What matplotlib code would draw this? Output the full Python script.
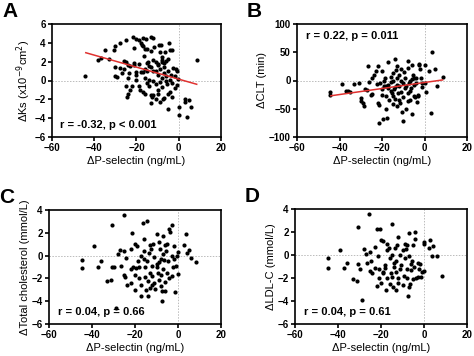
import matplotlib
matplotlib.use("Agg")
import matplotlib.pyplot as plt

plt.rcParams['font.family'] = ['Liberation Sans', 'DejaVu Sans']

# Panel A: delta Ks
a_x = [-44.5, -38, -37, -35, -33, -30.5, -30, -30, -30, -29, -28, -28, -27, -26, -25, -25, -25,
       -24.5, -24, -24, -23.5, -23, -22, -21.5, -21, -21, -21, -20, -20, -20, -19, -19, -18.5, -18,
       -17.5, -17, -17, -17, -16.5, -16, -16, -16, -16, -15.5, -15, -15, -15, -15, -14.5, -14, -14,
       -14, -13, -13, -13, -13, -13, -12.5, -12, -12, -12, -12, -12, -11.5, -11, -11, -11, -11, -10,
       -10, -10, -10, -9.5, -9, -9, -9, -9, -8.5, -8, -8, -8, -8, -8, -7.5, -7, -7, -7, -7, -6.5, -6,
       -6, -6, -5.5, -5, -5, -5, -5, -4.5, -4, -4, -4, -3.5, -3, -3, -3, -2.5, -2, -2, -1.5, -1, -1,
       -0.5, 0, 0, 3, 3, 4, 5, 6, 8.5, -20, -18, -10, -19, -26, -24, -23, -17]
a_y = [0.5, 2.2, 2.4, 3.2, 2.3, 3.2, 3.7, 1.4, 0.5, 0.4, 4.0, 1.3, 0.8, 1.2, 4.3, 2.0, -0.6,
       -1.8, -1.4, 0.3, 0.8, 1.5, -0.6, 4.6, 3.5, 1.9, 1.6, 4.4, 0.6, 0.1, 4.3, -0.6, -1.0, 4.0,
       3.8, 4.5, 3.7, 0.9, 2.6, 3.3, 1.2, 0.3, -1.4, 4.4, 3.3, 1.9, 1.0, -0.3, 2.0, 1.5, 0.1,
       -0.6, 4.6, 3.1, 1.4, -1.5, -2.4, -1.7, 4.5, 2.2, 1.0, 0.0, -1.5, 3.6, 2.0, 1.0, -0.4, -2.0, 1.8,
       0.6, -1.0, -1.4, 3.8, 3.0, 1.2, -0.2, -2.3, 3.8, 2.5, 2.2, 2.0, 0.3, -0.7, -2.0, 1.9, 1.4, 0.8, -1.9, 3.0, 2.1,
       0.5, 0.0, -0.4, -3.0, 2.3, 1.0, -1.4, 4.0, 3.2, 0.1, -1.2, 0.6, 3.2, -0.3, -1.7, 1.3, 0.5, -0.8, 1.2, 1.0, -0.5,
       0.2, -2.8, -3.7, -2.0, -2.3, -3.9, -2.1, -2.8, 2.2, 0.9, 0.9, 1.6, 1.8, 2.1, 1.6, -1.0, -1.2]
a_fit_x = [-44, 8.5]
a_fit_y = [2.95, -0.4]

# Panel B: delta CLT
b_x = [-44.5, -44.5, -39, -37, -36, -35, -33, -31, -30, -30, -29, -28.5, -28, -27, -26.5, -26, -25,
       -24.5, -24.5, -24, -23, -22.5, -22, -22, -21.5, -21.5, -21, -20, -20, -20, -19.5, -19, -19,
       -18.5, -18, -18, -18, -17.5, -17, -17, -17, -16.5, -16, -16, -16, -15.5, -15, -15, -15, -15,
       -14.5, -14, -14, -14, -13.5, -13, -13, -13, -13, -12.5, -12, -12, -12, -11.5, -11, -11, -11,
       -10.5, -10, -10, -10, -9.5, -9, -9, -8.5, -8.5, -8, -8, -8, -8, -7.5, -7, -7, -7, -6.5, -6,
       -6, -6, -5.5, -5, -5, -5, -4.5, -4, -4, -3.5, -3, -3, -2.5, -2.5, -2, -1.5, -1, -1, 0, 0,
       0.5, 2, 3, 3.5, 5, 6, 8.5]
b_y = [-21, -26, -6, -19, -19, -20, -7, -4, -31, -36, -40, -45, -15, -17, 25, -2, -25,
       -24, 5, 10, 16, -6, 25, -40, -44, -76, -5, -25, -15, 17, -68, 0, -10,
       4, -10, -28, -50, -66, -8, -14, 33, -34, -2, -18, 7, -22, -28, 0, -42, 13,
       -15, 38, -12, -32, 18, -8, -45, 25, 5, -22, -35, -10, 10, -40, -20, 20, 0,
       -55, -71, -5, -30, 15, -14, 5, -10, -50, 34, -36, -22, 22, -5, 0, -34, -18, -13, -60,
       27, 2, 10, -28, 5, -8, -30, 4, -4, -38, -25, -28, 27, 30, 20, 5, -12, -5, 27, -5,
       -20, 17, -57, 51, 20, -10, 6]
b_fit_x = [-44, 8.5]
b_fit_y = [-27, 1]

# Panel C: delta total cholesterol
c_x = [-44.5, -44.5, -39, -37, -36, -33, -31, -30.5, -30, -30.5, -29, -28, -27, -26.5, -25, -25, -25,
       -24.5, -24, -23.5, -22, -22, -22, -21.5, -21, -20, -20, -19.5, -19, -18.5, -18, -18, -17, -17,
       -16.5, -16, -16, -16, -15.5, -15.5, -15, -14.5, -14.5, -14, -14, -13.5, -13, -13, -12.5, -12,
       -12, -12, -11.5, -11, -11, -10.5, -10, -10, -10, -9.5, -9, -9, -8.5, -8, -8, -8, -7.5, -7.5,
       -7, -7, -7, -6.5, -6, -6, -5.5, -5, -5, -4.5, -4, -4, -3.5, -3, -3, -3, -2.5, -2, -1.5, -1,
       -0.5, 0, 0, 3, 3.5, 4, 5, 6, 8.5, -13, -17, -20, -9, -6, -2]
c_y = [-0.4, -1.1, 0.8, -1.0, -0.5, -2.2, -2.1, -1.0, -1.0, 2.7, -4.6, 0.1, 0.5, -0.9, 3.6, 0.4, -1.7,
       -1.9, -0.2, -2.6, -2.4, -1.2, 0.6, 2.0, -1.0, 1.0, -3.0, -1.1, 0.8, -0.5, -1.0, -2.0, -2.6, -3.5,
       2.9, 1.5, 0.4, -0.3, -1.0, -1.9, -3.0, 3.0, -0.5, -2.2, -3.5, 0.2, -1.5, -2.8, 0.6, -0.9,
       -1.8, -2.6, 1.0, -0.1, -2.4, -2.9, 1.9, -1.0, -0.7, -1.5, -2.1, 1.2, 0.6, -0.3, -1.7, -2.7, -4.0, -3.1,
       1.7, 0.1, -1.2, -0.4, -2.3, -3.1, 0.4, 1.0, -1.5, -0.5, 2.3, -2.0, 2.1, 2.7, 0.0, -1.8, -1.0, 0.8, -3.2, -0.9,
       0.0, 0.3, -1.6, 0.9, 1.9, 0.2, 0.5, -0.2, -0.6, 0.9, 0.0, -1.7, -0.6, 0.9, -0.3]

# Panel D: delta LDL-C
d_x = [-44.5, -44.5, -39, -37, -36, -33, -31, -30.5, -30.5, -30, -29, -28, -27, -26.5, -25.5, -25, -25,
       -24.5, -24, -23, -23, -22, -22, -21.5, -21, -21, -20.5, -20, -20, -19, -19, -18, -18, -17.5,
       -17, -17, -16.5, -16, -16, -15.5, -15, -15, -15, -14.5, -14, -14, -13.5, -13, -13, -12.5, -12,
       -12, -12, -11, -11, -10.5, -10, -10, -9.5, -9, -9, -8.5, -8, -8, -7.5, -7, -7, -7, -6.5, -6,
       -5.5, -5, -5, -4.5, -4, -4, -3.5, -3, -2.5, -2, -1.5, -1, 0, 0, 0, 2.5, 3, 4, 3.5, 6, 8.5,
       -8, -17, -19, -6, -13, -3]
d_y = [-0.3, -1.1, 0.4, -1.1, -0.7, -2.1, -2.3, 2.4, -0.8, -1.2, -3.9, 0.5, 0.1, -0.7, 3.6, 0.3, -1.4,
       -0.5, -1.6, 0.7, -1.1, 2.3, -2.7, -0.1, -1.2, -2.0, 2.3, 1.3, -2.4, 1.2, -1.6, -1.1, -0.9, -3.0,
       1.0, -2.0, 0.6, -0.3, -2.5, -1.6, 2.7, 0.0, -1.9, -2.8, -0.7, -1.0, 0.6, -1.5, -3.0, 0.9, 1.6,
       -2.0, -2.4, 0.0, -1.2, -0.9, 0.4, -2.6, -1.8, 1.0, -0.3, 0.5, -1.2, -2.0, -3.6, 1.9, -2.8, -0.1, -2.5, -1.3,
       -0.5, 0.9, -2.1, -1.0, 1.4, 2.0, -2.0, -0.7, -1.2, -0.8, -1.9, -1.5, 1.0, 1.1, -1.4, 0.6, 1.3, 0.8, -0.1, -0.1, -1.8,
       0.9, 0.4, -1.5, -0.8, -0.5, -1.9]

x_ticks = [-60, -40, -20, 0, 20]
xlabel = '\u0394P-selectin (ng/mL)'

panels = [
    ('A', a_x, a_y, (a_fit_x, a_fit_y), '\u0394Ks (x10$^{-9}$cm$^{2}$)', (-6, 6), [-6, -4, -2, 0, 2, 4, 6],
     'r = -0.32, p < 0.001', 'bottom', [52, 24, 221, 137]),
    ('B', b_x, b_y, (b_fit_x, b_fit_y), '\u0394CLT (min)', (-100, 100), [-100, -50, 0, 50, 100],
     'r = 0.22, p = 0.011', 'top', [297, 24, 467, 137]),
    ('C', c_x, c_y, None, '\u0394Total cholesterol (mmol/L)', (-6, 4), [-6, -4, -2, 0, 2, 4],
     'r = 0.04, p = 0.66', 'bottom', [49, 210, 221, 324]),
    ('D', d_x, d_y, None, '\u0394LDL-C (mmol/L)', (-6, 4), [-6, -4, -2, 0, 2, 4],
     'r = 0.04, p = 0.61', 'bottom', [295, 209, 467, 324]),
]

W, H = 474, 356
fig = plt.figure(figsize=(W / 100, H / 100), dpi=100)

for letter, xs, ys, fit, ylab, ylim, yticks, note, where, box in panels:
    l, t, r, b = box
    ax = fig.add_axes([l / W, 1 - b / H, (r - l) / W, (b - t) / H])
    ax.axhline(0, color='#bbbbbb', lw=0.7, ls=(0, (1.5, 1.5)), zorder=1)
    ax.axvline(0, color='#bbbbbb', lw=0.7, ls=(0, (1.5, 1.5)), zorder=1)
    ax.scatter(xs, ys, s=9, color='black', zorder=3, linewidths=0)
    if fit is not None:
        ax.plot(fit[0], fit[1], color='#e0312f', lw=1.1, zorder=4)
    ax.set_xlim(-60, 20)
    ax.set_ylim(*ylim)
    ax.set_xticks(x_ticks)
    ax.set_yticks(yticks)
    for s in ax.spines.values():
        s.set_linewidth(1.2)
    ax.tick_params(direction='out', length=3, width=1.2, labelsize=7, pad=1.5)
    for lab in ax.get_xticklabels() + ax.get_yticklabels():
        lab.set_fontweight('bold')
    ax.set_xlabel(xlabel, fontsize=8, labelpad=2)
    ax.set_ylabel(ylab, fontsize=8, labelpad=1)
    if where == 'bottom':
        ax.text(0.05, 0.06, note, transform=ax.transAxes, fontsize=8, fontweight='bold', va='bottom')
    else:
        ax.text(0.05, 0.94, note, transform=ax.transAxes, fontsize=8, fontweight='bold', va='top')
    fig.text((l - 50) / W, 1 - (t - 22) / H, letter, fontsize=15, fontweight='bold', va='top')

fig.savefig('out.png', dpi=100)
